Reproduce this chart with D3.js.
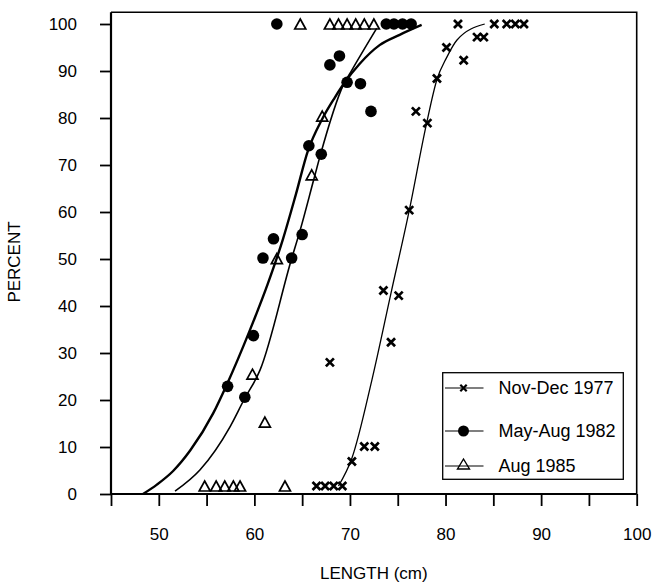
<!DOCTYPE html>
<html>
<head>
<meta charset="utf-8">
<script src="https://cdn.jsdelivr.net/npm/d3@7"></script>
<style>
body { margin: 0; background: #fff; }
svg { display: block; font-family: "Liberation Sans", Arial, Helvetica, sans-serif; }
</style>
</head>
<body>
<div id="chart-area"></div>
<script>
/* Tick labels and series names */
var xTickValues = [45, 50, 55, 60, 65, 70, 75, 80, 85, 90, 95, 100];
var xTickLabels = [50, 60, 70, 80, 90, 100];
var yTickLabels = [0, 10, 20, 30, 40, 50, 60, 70, 80, 90, 100];
var seriesNames = ["Nov-Dec 1977", "May-Aug 1982", "Aug 1985"];

/* Observed points: length (cm) and percent */
var nov77Length = [66.5, 67.4, 68.3, 69.2, 70.2, 71.5, 72.6, 67.9, 74.3, 73.5, 75.1, 76.2, 78.1, 76.9, 79.1, 81.9, 80.1, 83.3, 84.0, 81.3, 85.1, 86.4, 87.3, 88.2];
var nov77Percent = [1.7, 1.7, 1.7, 1.7, 6.9, 10.1, 10.1, 28.0, 32.3, 43.3, 42.2, 60.4, 78.9, 81.4, 88.4, 92.3, 95.0, 97.2, 97.2, 100, 100, 100, 100, 100];

var may82Length = [57.2, 59.0, 59.9, 60.9, 62.0, 63.9, 65.0, 65.7, 67.0, 67.9, 68.9, 69.7, 71.1, 72.2, 62.35, 73.8, 74.6, 75.5, 76.4];
var may82Percent = [22.9, 20.6, 33.7, 50.2, 54.3, 50.2, 55.2, 74.1, 72.3, 91.3, 93.2, 87.6, 87.3, 81.4, 100, 100, 100, 100, 100];

var aug85Length = [54.8, 56.0, 56.9, 57.8, 58.5, 63.2, 61.1, 59.8, 62.35, 66.0, 67.1, 64.8, 67.9, 68.8, 69.7, 70.6, 71.5, 72.5];
var aug85Percent = [1.7, 1.7, 1.7, 1.7, 1.7, 1.7, 15.3, 25.5, 50.1, 67.9, 80.4, 100, 100, 100, 100, 100, 100, 100];

/* Fitted curves */
var fit77Length = [68.8, 70.2, 72.3, 74.3, 76.2, 78.0, 79.1, 80.1, 81.2, 84.1];
var fit77Percent = [1.7, 7.6, 24.3, 42.8, 60.3, 78.7, 88.2, 92.8, 96.6, 100];

var fit82Length = [48.35, 49.8, 51.5, 53.3, 55.7, 57.1, 59.5, 61.4, 63.0, 64.35, 65.6, 67.1, 68.4, 69.5, 71.0, 73.1, 75.2, 77.5];
var fit82Percent = [0, 2.0, 4.9, 9.3, 17.2, 23.2, 34.7, 44.7, 54.3, 63.8, 73.0, 79.8, 84.3, 87.7, 91.5, 95.5, 97.7, 99.8];

var fit85Length = [51.7, 54.3, 57.45, 58.9, 60.6, 63.9, 64.8, 66.2, 66.9, 69.3, 70.2, 72.8];
var fit85Percent = [0.6, 5.1, 14.3, 20.0, 26.4, 50.1, 56.2, 66.8, 72.1, 87.0, 90.2, 99.1];

/* Size of the picture */
var width = 654;
var height = 586;

var svg = d3.select("#chart-area")
    .append("svg")
    .attr("width", width)
    .attr("height", height);

/* Scales */
var x = d3.scaleLinear().domain([45, 100]).range([111, 636.7]);
var y = d3.scaleLinear().domain([0, 100]).range([494, 24]);
var yTop = y(102.5);

function zip(a, b) {
    return a.map(function(d, i) { return [d, b[i]]; });
}

/* Axes */
var xAxis = d3.axisBottom(x)
    .tickValues(xTickValues)
    .tickSize(12)
    .tickSizeOuter(0)
    .tickPadding(22)
    .tickFormat(function(d) { return xTickLabels.indexOf(d) >= 0 ? d : ""; });

var yAxis = d3.axisLeft(y)
    .tickValues(yTickLabels)
    .tickSize(11)
    .tickSizeOuter(0)
    .tickPadding(23);

var gx = svg.append("g")
    .attr("transform", "translate(0," + y(0) + ")")
    .call(xAxis);
var gy = svg.append("g")
    .attr("transform", "translate(" + x(45) + ",0)")
    .call(yAxis);

[gx, gy].forEach(function(g) {
    g.select(".domain").remove();
    g.selectAll(".tick line").attr("stroke", "#000").attr("stroke-width", 1.8);
    g.selectAll(".tick text")
        .attr("fill", "#000")
        .style("font-size", "17px")
        .style("font-family", "'Liberation Sans', Arial, sans-serif");
});

/* Frame round the plot */
svg.append("path")
    .attr("d", "M" + x(45) + "," + y(0) + "H" + x(100))
    .attr("stroke", "#000").attr("stroke-width", 2.2).attr("fill", "none");
svg.append("path")
    .attr("d", "M" + x(45) + "," + y(0) + "V" + yTop)
    .attr("stroke", "#000").attr("stroke-width", 2.2).attr("fill", "none");
svg.append("path")
    .attr("d", "M" + x(45) + "," + yTop + "H" + x(100) + "V" + y(0))
    .attr("stroke", "#000").attr("stroke-width", 1.6).attr("fill", "none");

/* Axis titles */
svg.append("text")
    .attr("x", x(72.5))
    .attr("y", 579)
    .attr("text-anchor", "middle")
    .style("font-size", "17px")
    .text("LENGTH (cm)");

svg.append("text")
    .attr("transform", "translate(20,262) rotate(-90)")
    .attr("text-anchor", "middle")
    .style("font-size", "17px")
    .text("PERCENT");

/* Fitted curves */
var line = d3.line()
    .x(function(d) { return x(d[0]); })
    .y(function(d) { return y(d[1]); })
    .curve(d3.curveMonotoneX);

svg.append("path")
    .datum(zip(fit82Length, fit82Percent))
    .attr("d", line)
    .attr("fill", "none").attr("stroke", "#000").attr("stroke-width", 2.4);
svg.append("path")
    .datum(zip(fit85Length, fit85Percent))
    .attr("d", line)
    .attr("fill", "none").attr("stroke", "#000").attr("stroke-width", 1.6);
svg.append("path")
    .datum(zip(fit77Length, fit77Percent))
    .attr("d", line)
    .attr("fill", "none").attr("stroke", "#000").attr("stroke-width", 1.3);

/* Marker shapes */
function crossPath(cx, cy, s) {
    return "M" + (cx - s) + "," + (cy - s) + "L" + (cx + s) + "," + (cy + s) +
        "M" + (cx - s) + "," + (cy + s) + "L" + (cx + s) + "," + (cy - s);
}
function trianglePath(cx, cy, w, h) {
    return "M" + cx + "," + (cy - h / 2) + "L" + (cx + w / 2) + "," + (cy + h / 2) +
        "L" + (cx - w / 2) + "," + (cy + h / 2) + "Z";
}

/* Nov-Dec 1977 points */
svg.append("g").selectAll("path")
    .data(zip(nov77Length, nov77Percent))
    .enter().append("path")
    .attr("d", function(d) { return crossPath(x(d[0]), y(d[1]), 4); })
    .attr("stroke", "#000").attr("stroke-width", 2.7).attr("fill", "none");

/* Aug 1985 points */
svg.append("g").selectAll("path")
    .data(zip(aug85Length, aug85Percent))
    .enter().append("path")
    .attr("d", function(d) { return trianglePath(x(d[0]), y(d[1]), 11, 10); })
    .attr("stroke", "#000").attr("stroke-width", 1.7).attr("fill", "none");

/* May-Aug 1982 points */
svg.append("g").selectAll("circle")
    .data(zip(may82Length, may82Percent))
    .enter().append("circle")
    .attr("cx", function(d) { return x(d[0]); })
    .attr("cy", function(d) { return y(d[1]); })
    .attr("r", 5.8)
    .attr("fill", "#000");

/* Legend */
var legend = svg.append("g");
legend.append("rect")
    .attr("x", 442.7).attr("y", 372.7)
    .attr("width", 180.6).attr("height", 106.6)
    .attr("fill", "#fff").attr("stroke", "#000").attr("stroke-width", 1.3);

var rowY = [388, 431, 466];
seriesNames.forEach(function(name, i) {
    var cy = rowY[i];
    legend.append("line")
        .attr("x1", 445).attr("x2", 483.5)
        .attr("y1", cy).attr("y2", cy)
        .attr("stroke", "#000").attr("stroke-width", 1.1);
    if (i === 0) {
        legend.append("path")
            .attr("d", crossPath(463.5, cy, 3.2))
            .attr("stroke", "#000").attr("stroke-width", 2.2).attr("fill", "none");
    } else if (i === 1) {
        legend.append("circle")
            .attr("cx", 463.5).attr("cy", cy).attr("r", 5.5).attr("fill", "#000");
    } else {
        legend.append("path")
            .attr("d", trianglePath(463.5, cy - 2, 12, 10))
            .attr("stroke", "#000").attr("stroke-width", 1.4).attr("fill", "none");
    }
    legend.append("text")
        .attr("x", 498.5)
        .attr("y", cy + 6)
        .style("font-size", "18px")
        .text(name);
});
</script>
</body>
</html>
